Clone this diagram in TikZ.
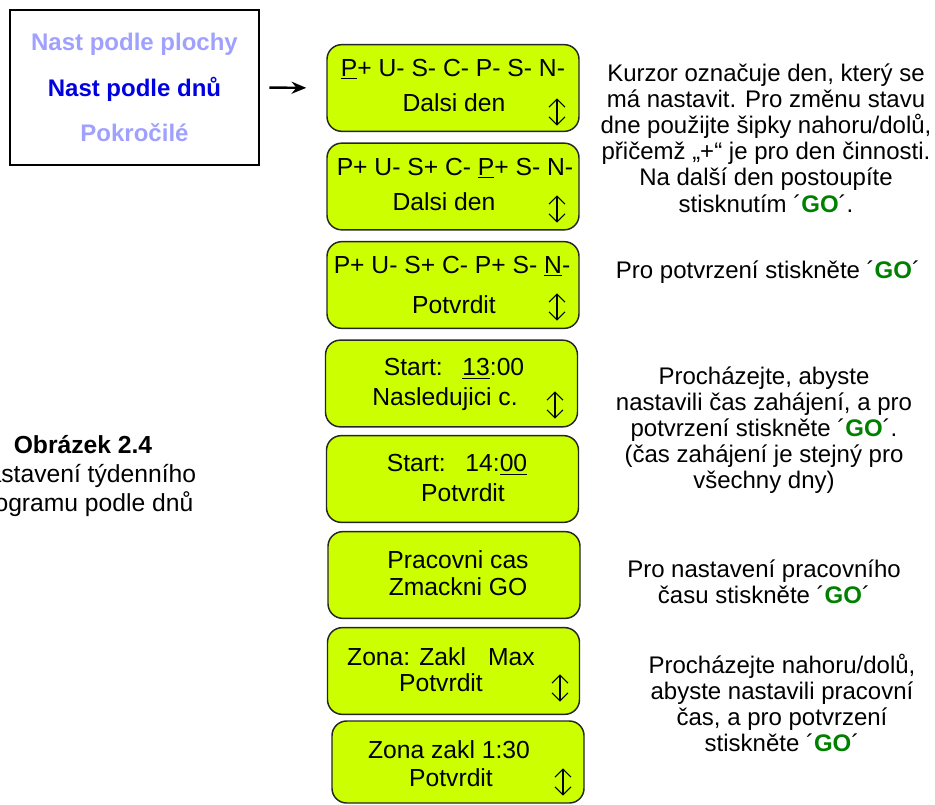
\documentclass[tikz,border=0pt]{standalone}
\usepackage{fontspec}
\setmainfont{Liberation Sans}
\usetikzlibrary{arrows.meta}

\definecolor{lcdgreen}{RGB}{204,255,0}
\definecolor{menuoff}{RGB}{160,160,255}
\definecolor{menuon}{RGB}{0,0,225}
\definecolor{gogreen}{RGB}{0,128,0}
\newcommand{\goKey}{´\textbf{\textcolor{gogreen}{GO}}´}

\tikzset{
  lcd/.style={draw=black!85, fill=lcdgreen, rounded corners=11pt, line width=1.1pt,
              minimum width=189pt, minimum height=65pt},
  lcdtext/.style={font=\fontsize{18.5}{22}\selectfont, inner sep=0pt,
                  text height=13pt, text depth=0pt},
  updown/.style={inner sep=0pt, minimum width=12pt, minimum height=20pt},
  updownline/.style={{Straight Barb[length=6pt,width=12pt]}-{Straight Barb[length=6pt,width=12pt]},
                     line width=0.8pt},
  note/.style={align=center, font=\fontsize{18}{19.6}\selectfont, inner sep=0pt},
  menubox/.style={draw, line width=1.5pt, minimum width=186.75pt, minimum height=116.25pt,
                  align=center, font=\fontsize{18}{34}\selectfont\bfseries}
}

\begin{document}
\begin{tikzpicture}[x=0.75pt, y=-0.75pt]
\useasboundingbox (0,0) rectangle (935,805);

% menu and arrow
\node [menubox] (menu) at (134.5,87.5)
  {{\color{menuoff}Nast podle plochy}\\{\color{menuon}Nast podle dnů}\\{\color{menuoff}Pokročilé}};

% caption
\node [align=center, font=\fontsize{18.5}{21.5}\selectfont, inner sep=0pt] (caption) at (83,476)
  {\textbf{Obrázek 2.4}\\Nastavení týdenního\\programu podle dnů};

% displays
\node [lcd] (lcd1) at (453,88) {};
\node [lcdtext] (l1a) at (453,68) {\underline{P}+ U- S- C- P- S- N-};
\node [lcdtext] (l1b) at (454,103) {Dalsi den};
\node [updown] (ud1) at (557,112) {};

\node [lcd] (lcd2) at (453,186.5) {};
\node [lcdtext] (l2a) at (455,167) {P+ U- S+ C- \underline{P}+ S- N-};
\node [lcdtext] (l2b) at (444,202) {Dalsi den};
\node [updown] (ud2) at (557,209) {};

\node [lcd] (lcd3) at (453,285) {};
\node [lcdtext] (l3a) at (452,265) {P+ U- S+ C- P+ S- \underline{N}-};
\node [lcdtext] (l3b) at (454,305) {Potvrdit};
\node [updown] (ud3) at (557,307) {};

\node [lcd] (lcd4) at (451.5,383.5) {};
\node [lcdtext] (l4a) at (454,367) {Start:\hspace{0.8em}\underline{13}:00};
\node [lcdtext] (l4b) at (445,397) {Nasledujici c.};
\node [updown] (ud4) at (555,405) {};

\node [lcd] (lcd5) at (452.5,479) {};
\node [lcdtext] (l5a) at (457,463) {Start:\hspace{0.8em}14:\underline{00}};
\node [lcdtext] (l5b) at (463,493) {Potvrdit};

\node [lcd] (lcd6) at (454,575) {};
\node [lcdtext] (l6a) at (458,560) {Pracovni cas};
\node [lcdtext] (l6b) at (458,587) {Zmackni GO};

\node [lcd] (lcd7) at (453.5,671) {};
\node [lcdtext] (l7a) at (441,657) {Zona: Zakl\hspace{0.9em}Max};
\node [lcdtext] (l7b) at (441,683) {Potvrdit};
\node [updown] (ud7) at (560,688) {};

\node [lcd, minimum height=61.5pt] (lcd8) at (458,762) {};
\node [lcdtext] (l8a) at (449,750) {Zona zakl 1:30};
\node [lcdtext] (l8b) at (451,778) {Potvrdit};
\node [updown] (ud8) at (563,782) {};

% up/down marks
\foreach \u in {ud1,ud2,ud3,ud4,ud7,ud8}
  \draw [updownline] (\u.north) -- (\u.south);

\draw [-{Stealth[length=11pt,width=9pt]}, line width=1.8pt, shorten <=7pt, shorten >=15pt]
  (menu.east) -- (lcd1.west);

% notes
\node [note] (n1) at (766,138)
  {Kurzor označuje den, který se\\má nastavit. Pro změnu stavu\\dne použijte šipky nahoru/dolů,\\přičemž „+“ je pro den činnosti.\\Na další den postoupíte\\stisknutím \goKey.};
\node [note] (n2) at (768,272) {Pro potvrzení stiskněte \goKey};
\node [note] (n3) at (764,430)
  {Procházejte, abyste\\nastavili čas zahájení, a pro\\potvrzení stiskněte \goKey.\\(čas zahájení je stejný pro\\všechny dny)};
\node [note] (n4) at (764,582) {Pro nastavení pracovního\\času stiskněte \goKey};
\node [note] (n5) at (782,703)
  {Procházejte nahoru/dolů,\\abyste nastavili pracovní\\čas, a pro potvrzení\\stiskněte \goKey};

\end{tikzpicture}
\end{document}
